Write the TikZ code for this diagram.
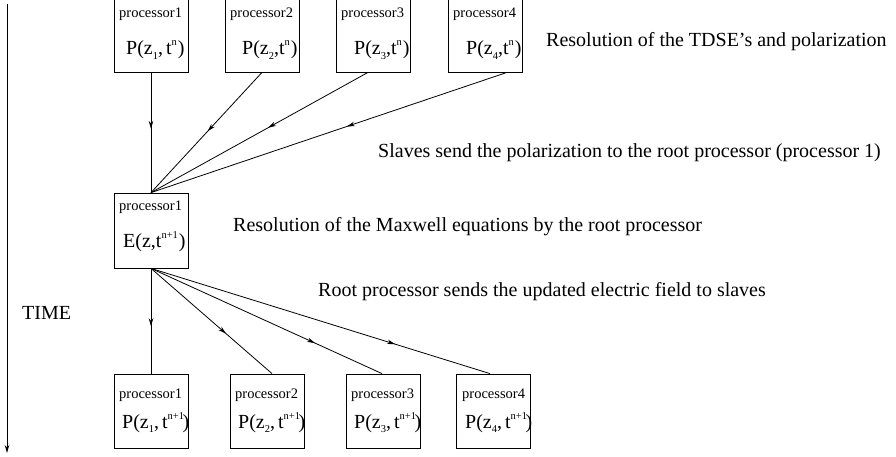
\documentclass[tikz,border=0pt]{standalone}
\usepackage{fontspec}
\setmainfont{Liberation Serif}
\usetikzlibrary{arrows.meta,decorations.markings}
\newcommand\sbx[1]{\raisebox{-0.22em}{\fontsize{10.5}{12}\selectfont #1}}
\newcommand\spx[1]{\raisebox{0.45em}{\fontsize{10.5}{12}\selectfont #1}}
\tikzset{
  box/.style={draw, line width=0.8pt, minimum width=74pt, minimum height=74pt, inner sep=0pt},
  lbl/.style={anchor=base west, inner sep=0pt, font=\fontsize{14.5}{17}\selectfont},
  val/.style={anchor=base west, inner sep=0pt, font=\fontsize{20}{22}\selectfont},
  note/.style={anchor=base west, inner sep=0pt, font=\fontsize{20}{24}\selectfont},
  conn/.style={line width=0.8pt},
  midarrow/.style={postaction={decorate}, decoration={markings, mark=at position #1 with {\arrow{Stealth[length=8pt,width=4.5pt]}}}},
}
\begin{document}
\begin{tikzpicture}[x=1pt,y=-1pt]
\useasboundingbox (0,0) rectangle (896,457);
% top boxes
\node[box] (t1) at (151,35) {};
\node[box] (t2) at (262,35) {};
\node[box] (t3) at (373,35) {};
\node[box] (t4) at (485,35) {};
\node[lbl] (t1l) at (119,18) {processor1};
\node[lbl] (t2l) at (230,18) {processor2};
\node[lbl] (t3l) at (341,18) {processor3};
\node[lbl] (t4l) at (453,18) {processor4};
\node[val] (t1v) at (126,55) {P(z\sbx{1},\kern3pt t\spx{n}\kern1pt)};
\node[val] (t2v) at (242,55) {P(z\sbx{2},t\spx{n}\kern1pt)};
\node[val] (t3v) at (354,55) {P(z\sbx{3},t\spx{n}\kern1pt)};
\node[val] (t4v) at (466,55) {P(z\sbx{4},t\spx{n}\kern1pt)};
% middle box
\node[box, minimum height=75pt] (m) at (151,230.5) {};
\node[lbl] (ml) at (119,211) {processor1};
\node[val] (mv) at (123,247) {E(z,t\spx{n+1}\kern1pt)};
% bottom boxes
\node[box] (b1) at (151,411) {};
\node[box] (b2) at (267,411) {};
\node[box] (b3) at (383,411) {};
\node[box] (b4) at (493.5,411) {};
\node[lbl] (b1l) at (119,398) {processor1};
\node[lbl] (b2l) at (235,398) {processor2};
\node[lbl] (b3l) at (351,398) {processor3};
\node[lbl] (b4l) at (462,398) {processor4};
\node[val] (b1v) at (122,428) {P(z\sbx{1},\kern3pt t\spx{n+1}\kern-1.5pt)};
\node[val] (b2v) at (238,428) {P(z\sbx{2},\kern3pt t\spx{n+1}\kern-1.5pt)};
\node[val] (b3v) at (354,428) {P(z\sbx{3},\kern3pt t\spx{n+1}\kern-1.5pt)};
\node[val] (b4v) at (465,428) {P(z\sbx{4},\kern3pt t\spx{n+1}\kern-1.5pt)};
% notes
\node[note] (n1) at (546,47) {Resolution of the TDSE’s and polarization};
\node[note] (n2) at (378,158) {Slaves send the polarization to the root processor (processor 1)};
\node[note] (n3) at (233,231) {Resolution of the Maxwell equations by the root processor};
\node[note] (n4) at (318,296) {Root processor sends the updated electric field to slaves};
\node[note] (time) at (22,319) {TIME};
% time axis
\coordinate (ts) at (7,4);
\coordinate (te) at (7,453);
\draw[conn, -{Stealth[length=8pt,width=4.5pt]}] (ts) -- (te);
% gather
\draw[conn, midarrow=0.47] (t1.south) -- (m.north);
\draw[conn, midarrow=0.49] (t2.south) -- (m.north);
\draw[conn, midarrow=0.46] ([xshift=-5pt]t3.south) -- (m.north);
\draw[conn, midarrow=0.45] ([xshift=22pt]t4.south) -- (m.north);
% scatter
\draw[conn, midarrow=0.55] (m.south) -- (b1.north);
\draw[conn, midarrow=0.62] (m.south) -- ([xshift=5pt]b2.north);
\draw[conn, midarrow=0.71] (m.south) -- ([xshift=-1pt]b3.north);
\draw[conn, midarrow=0.72] (m.south) -- ([xshift=-3.5pt]b4.north);
\end{tikzpicture}
\end{document}
